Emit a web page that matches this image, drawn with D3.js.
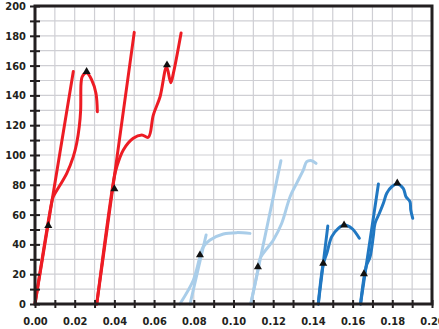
<!DOCTYPE html>
<html lang="en">

<head>
    <meta charset="UTF-8">
    <script src="https://d3js.org/d3.v7.min.js"></script>
    <style>
        body {
            margin: 0;
            background: #fff;
        }

        .axis text {
            font: bold 11px "Liberation Sans Narrow", "DejaVu Sans Condensed", Arial, sans-serif;
            fill: #231f20;
        }

        .axis line {
            stroke: #231f20;
            stroke-width: 2;
        }

        .grid line {
            stroke: #cfcfd4;
            stroke-width: 1.2;
        }
    </style>
</head>

<body>
    <svg id="chart"></svg>
    <script>
        // tick values
        const xTicks = [0, 0.02, 0.04, 0.06, 0.08, 0.10, 0.12, 0.14, 0.16, 0.18, 0.20];
        const yTicks = [0, 20, 40, 60, 80, 100, 120, 140, 160, 180, 200];

        // red group
        const red1Line = [[0, 0], [0.0193, 156]];
        const red1Curve = [[0, 0], [0.0087, 70], [0.0092, 72], [0.0160, 87.7], [0.0193, 98.9], [0.0210, 107.9],
            [0.0223, 119], [0.0230, 130.2], [0.0232, 148], [0.0238, 152.6], [0.0260, 155.2], [0.0286, 150.3],
            [0.0307, 141.4], [0.0314, 129]];
        const red2Line = [[0.0311, 0], [0.0500, 182.3]];
        const red2Curve = [[0.0311, 0], [0.0399, 85], [0.0412, 92.1], [0.0445, 103.4], [0.0495, 111.2],
            [0.0538, 113.4], [0.0571, 111.9], [0.0596, 126.8], [0.0630, 139.1], [0.0663, 159.3],
            [0.0684, 148.5], [0.0697, 154.8], [0.0736, 181.9]];
        const redMarks = [[0.0067, 51.9], [0.0260, 155.2], [0.0400, 76.5], [0.0665, 159.7]];

        // light blue group
        const lb1Line = [[0.0781, 0], [0.0862, 46.3]];
        const lb1Curve = [[0.0730, 0], [0.0798, 16.1], [0.0831, 31.7], [0.0848, 38.5], [0.0882, 43],
            [0.0949, 47], [0.1016, 47.9], [0.1083, 47.4]];
        const lb2Line = [[0.1087, 0], [0.1239, 96.2]];
        const lb2Curve = [[0.1087, 0], [0.1125, 24], [0.1134, 30.7], [0.1201, 43], [0.1243, 54.2],
            [0.1285, 72], [0.1318, 81], [0.1352, 90], [0.1369, 95.5], [0.1394, 96.2], [0.1416, 94.4]];
        const lbMarks = [[0.0831, 32.2], [0.1123, 24.2]];

        // dark blue group
        const db1Line = [[0.1427, 0], [0.1475, 52.3]];
        const db1Curve = [[0.1427, 0], [0.1452, 26.6], [0.1470, 34], [0.1495, 45.2], [0.1528, 50.8],
            [0.1558, 53], [0.1596, 50.8], [0.1634, 44.1]];
        const db2Line = [[0.1640, 0], [0.1730, 80.5]];
        const db2Curve = [[0.1640, 0], [0.1668, 25], [0.1688, 31.7], [0.1704, 45.2], [0.1713, 54.2],
            [0.1735, 60.9], [0.1755, 67.6], [0.1772, 74.3], [0.1797, 78.7], [0.1825, 80.5], [0.1855, 77.6],
            [0.1869, 72], [0.1889, 68.7], [0.1893, 63.1], [0.1903, 57.5]];
        const dbMarks = [[0.1452, 26.6], [0.1557, 52.3], [0.1657, 19.5], [0.1825, 80.5]];

        const width = 439, height = 329;
        const margin = { top: 6, right: 7, bottom: 25, left: 35 };

        const svg = d3.select('#chart')
            .attr('width', width)
            .attr('height', height);

        const x = d3.scaleLinear().domain([0, 0.2]).range([margin.left, width - margin.right]);
        const y = d3.scaleLinear().domain([0, 200]).range([height - margin.bottom, margin.top]);

        // grid
        const grid = svg.append('g').attr('class', 'grid');
        grid.selectAll('.gx')
            .data(d3.range(1, 20).map(i => i / 100)).enter()
            .append('line')
            .attr('x1', d => x(d)).attr('x2', d => x(d))
            .attr('y1', y(0)).attr('y2', y(200));
        grid.selectAll('.gy')
            .data(d3.range(10, 200, 10)).enter()
            .append('line')
            .attr('y1', d => y(d)).attr('y2', d => y(d))
            .attr('x1', x(0)).attr('x2', x(0.2));

        // lines
        const line = d3.line()
            .x(d => x(d[0]))
            .y(d => y(d[1]))
            .curve(d3.curveCatmullRom.alpha(0.5));

        const series = [
            { data: red1Line, color: '#ed1c24' }, { data: red1Curve, color: '#ed1c24' },
            { data: red2Line, color: '#ed1c24' }, { data: red2Curve, color: '#ed1c24' },
            { data: lb1Line, color: '#a9cde9' }, { data: lb1Curve, color: '#a9cde9' },
            { data: lb2Line, color: '#a9cde9' }, { data: lb2Curve, color: '#a9cde9' },
            { data: db1Line, color: '#2178c2' }, { data: db1Curve, color: '#2178c2' },
            { data: db2Line, color: '#2178c2' }, { data: db2Curve, color: '#2178c2' },
        ];

        svg.append('g').selectAll('path')
            .data(series).enter()
            .append('path')
            .attr('d', d => line(d.data))
            .attr('fill', 'none')
            .attr('stroke', d => d.color)
            .attr('stroke-width', 3)
            .attr('stroke-linecap', 'round')
            .attr('stroke-linejoin', 'round');

        // triangle markers
        const tri = d3.symbol().type(d3.symbolTriangle).size(28);
        svg.append('g').selectAll('path')
            .data(redMarks.concat(lbMarks, dbMarks)).enter()
            .append('path')
            .attr('d', tri)
            .attr('transform', d => `translate(${x(d[0])},${y(d[1]) - 1})`)
            .attr('fill', '#111');

        // axes
        const yt = d3.range(0, 201, 10);
        svg.append('g').attr('class', 'axis')
            .attr('transform', `translate(${x(0)},0)`)
            .call(d3.axisLeft(y).tickValues(yt).tickSize(5).tickPadding(4)
                .tickFormat(d => yTicks.includes(d) ? d : ''))
            .call(g => g.select('.domain').remove());
        svg.append('g').attr('class', 'axis')
            .attr('transform', `translate(${x(0)},0)`)
            .call(d3.axisRight(y).tickValues(yt).tickSize(5).tickFormat(''))
            .call(g => g.select('.domain').remove());

        const xt = d3.range(0, 21).map(i => i / 100);
        svg.append('g').attr('class', 'axis')
            .attr('transform', `translate(0,${y(0)})`)
            .call(d3.axisBottom(x).tickValues(xt).tickSize(4).tickPadding(9)
                .tickFormat(d => xTicks.some(t => Math.abs(t - d) < 1e-9) ? d3.format('.2f')(d) : ''))
            .call(g => g.select('.domain').remove());
        svg.append('g').attr('class', 'axis')
            .attr('transform', `translate(0,${y(0)})`)
            .call(d3.axisTop(x).tickValues(xt).tickSize(4).tickFormat(''))
            .call(g => g.select('.domain').remove());

        // frame
        svg.append('rect')
            .attr('x', x(0)).attr('y', y(200))
            .attr('width', x(0.2) - x(0)).attr('height', y(0) - y(200))
            .attr('fill', 'none')
            .attr('stroke', '#231f20')
            .attr('stroke-width', 3);
    </script>
</body>

</html>
